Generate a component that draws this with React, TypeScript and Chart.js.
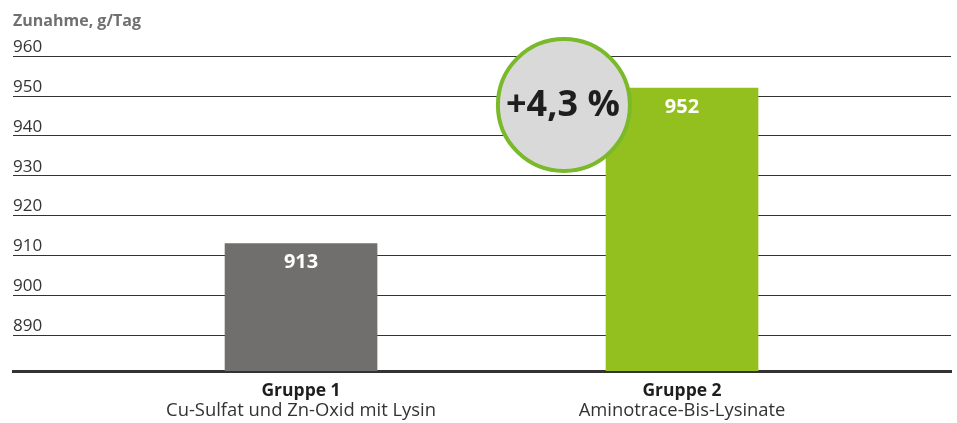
import React, { useEffect, useRef } from "react";
import { Chart, registerables } from "chart.js";

Chart.register(...registerables);

const categories = ["Gruppe 1", "Gruppe 2"];
const subtitles = ["Cu-Sulfat und Zn-Oxid mit Lysin", "Aminotrace-Bis-Lysinate"];
const values = [913, 952];
const barColors = ["#706f6d", "#93c01f"];
const yTicks = [890, 900, 910, 920, 930, 940, 950, 960];
const yTitle = "Zunahme, g/Tag";
const badgeText = "+4,3 %";
const badgePos = { x: 0.69, y: 947.75 };

const FONT = "'Open Sans', 'DejaVu Sans', sans-serif";
const X_MIN = -0.756;
const X_MAX = 1.706;

const valueLabelPlugin = {
  id: "valueLabels",
  afterDatasetsDraw(chart: any) {
    const ctx = chart.ctx;
    const meta = chart.getDatasetMeta(0);
    ctx.save();
    ctx.fillStyle = "#ffffff";
    ctx.font = `bold 20px ${FONT}`;
    ctx.textAlign = "center";
    ctx.textBaseline = "middle";
    meta.data.forEach((bar: any, i: number) => {
      ctx.fillText(String(values[i]), bar.x, bar.y + 19);
    });
    ctx.restore();
  },
};

const badgePlugin = {
  id: "badge",
  afterDatasetsDraw(chart: any) {
    const ctx = chart.ctx;
    const cx = chart.scales.x.getPixelForValue(badgePos.x);
    const cy = chart.scales.y.getPixelForValue(badgePos.y);
    ctx.save();
    ctx.beginPath();
    ctx.arc(cx, cy, 66, 0, Math.PI * 2);
    ctx.fillStyle = "#d9d9d9";
    ctx.fill();
    ctx.lineWidth = 4;
    ctx.strokeStyle = "#7ab929";
    ctx.stroke();
    ctx.fillStyle = "#1e1e1e";
    ctx.font = `bold 36px ${FONT}`;
    ctx.textAlign = "center";
    ctx.textBaseline = "middle";
    ctx.fillText(badgeText, cx - 1, cy + 1);
    ctx.restore();
  },
};

const subtitlePlugin = {
  id: "subtitles",
  afterDraw(chart: any) {
    const ctx = chart.ctx;
    const xs = chart.scales.x;
    ctx.save();
    ctx.fillStyle = "#333333";
    ctx.font = `18.4px ${FONT}`;
    ctx.textAlign = "center";
    ctx.textBaseline = "middle";
    subtitles.forEach((t, i) => {
      ctx.fillText(t, xs.getPixelForValue(i), chart.chartArea.bottom + 40);
    });
    ctx.restore();
  },
};

export default function App() {
  const canvasRef = useRef<HTMLCanvasElement | null>(null);

  useEffect(() => {
    if (!canvasRef.current) return;
    const chart = new Chart(canvasRef.current, {
      type: "bar",
      data: {
        datasets: [
          {
            data: values.map((v, i) => ({ x: i, y: v })),
            backgroundColor: barColors,
            barThickness: 152,
            borderWidth: 0,
          },
        ],
      },
      options: {
        animation: false,
        responsive: true,
        maintainAspectRatio: false,
        layout: { padding: { left: 13, right: 6, top: 0, bottom: 11 } },
        plugins: {
          legend: { display: false },
          tooltip: { enabled: false },
          title: {
            display: true,
            text: yTitle,
            align: "start",
            color: "#707070",
            font: { family: FONT, size: 16, weight: "bold" },
            padding: { top: 12, bottom: 25 },
          },
        },
        scales: {
          x: {
            type: "linear",
            offset: false,
            min: X_MIN,
            max: X_MAX,
            grid: { display: false, drawTicks: false, offset: false },
            border: { display: true, width: 3, color: "#333333" },
            afterBuildTicks: (s: any) => {
              s.ticks = categories.map((_, i) => ({ value: i }));
            },
            ticks: {
              callback: (v: any) => categories[v] ?? "",
              color: "#1e1e1e",
              font: { family: FONT, size: 17.5, weight: "bold" },
              padding: 10,
              autoSkip: false,
              maxRotation: 0,
            },
          },
          y: {
            min: 881,
            max: 960,
            afterBuildTicks: (s: any) => {
              s.ticks = yTicks.map((v) => ({ value: v }));
            },
            grid: { color: "#333333", lineWidth: 1, drawTicks: false },
            border: { display: false },
            ticks: {
              mirror: true,
              padding: 0,
              labelOffset: -9,
              color: "#333333",
              font: { family: FONT, size: 17 },
            },
          },
        },
      } as any,
      plugins: [valueLabelPlugin, badgePlugin, subtitlePlugin],
    });
    return () => chart.destroy();
  }, []);

  return (
    <div style={{ position: "absolute", left: 0, top: 0, width: 957, height: 423 }}>
      <canvas ref={canvasRef} />
    </div>
  );
}
